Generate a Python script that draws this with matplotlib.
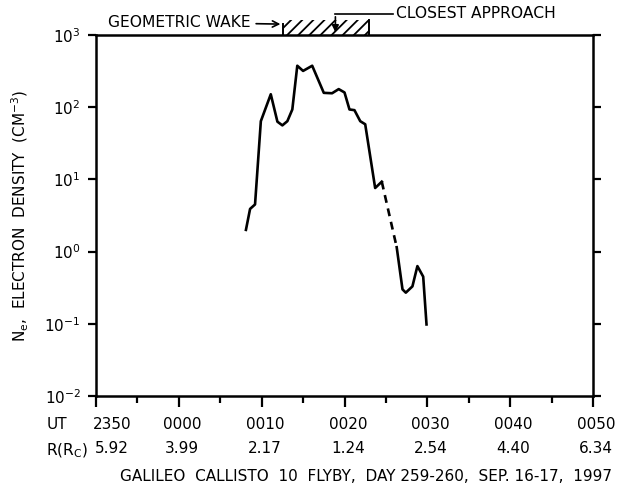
import matplotlib
matplotlib.use("Agg")
import matplotlib.pyplot as plt
from matplotlib.patches import Rectangle
from matplotlib.ticker import FixedLocator
import matplotlib.transforms as mtransforms

plt.rcParams['font.family'] = ['DejaVu Sans']
plt.rcParams['hatch.linewidth'] = 1.3

# minutes after 2350 UT (Day 259)
t_solid1 = [18.1, 18.6, 19.2, 19.9, 21.1, 21.9, 22.5, 23.1, 23.7, 24.3, 25.0,
            26.1, 27.5, 28.5, 29.3, 30.0, 30.6, 31.2, 31.9, 32.5, 33.7, 34.5]
ne_solid1 = [2.0, 3.9, 4.5, 64, 151, 63, 56, 64, 93, 375, 318,
             375, 158, 156, 178, 160, 93, 91, 64, 58, 7.6, 9.3]
t_dash = [34.5, 36.3]
ne_dash = [9.3, 1.15]
t_solid2 = [36.3, 37.0, 37.4, 38.2, 38.8, 39.5, 39.9]
ne_solid2 = [1.15, 0.30, 0.27, 0.33, 0.63, 0.45, 0.098]

ut_ticks = [0, 10, 20, 30, 40, 50, 60]
ut_labels = ["2350", "0000", "0010", "0020", "0030", "0040", "0050"]
r_labels = ["5.92", "3.99", "2.17", "1.24", "2.54", "4.40", "6.34"]

wake_start, wake_end = 22.6, 32.9
closest_approach = 28.9

fig = plt.figure(figsize=(6.27, 4.90), dpi=100)
ax = fig.add_axes([0.1531, 0.1918, 0.7927, 0.7368])

lw = 1.9
ax.plot(t_solid1, ne_solid1, color='black', lw=lw)
ax.plot(t_dash, ne_dash, color='black', lw=lw, ls=(0, (3, 2.2)))
ax.plot(t_solid2, ne_solid2, color='black', lw=lw)

ax.set_yscale('log')
ax.set_ylim(1e-2, 1e3)
ax.set_xlim(0, 60)

for s in ax.spines.values():
    s.set_linewidth(1.8)

fs = 11
ax.set_xticks(ut_ticks)
ax.set_xticklabels([])
ax.xaxis.set_minor_locator(FixedLocator([5, 15, 25, 35, 45, 55]))
ax.tick_params(axis='x', which='major', direction='out', length=8, width=1.6, pad=7)
ax.tick_params(axis='x', which='minor', direction='out', length=5, width=1.6)
ax.yaxis.set_minor_locator(FixedLocator([]))
ax.tick_params(axis='y', which='major', direction='out', length=6, width=1.6,
               labelsize=fs, right=True, left=True, pad=5)

trans = mtransforms.blended_transform_factory(ax.transData, ax.transAxes)
# UT and R rows (first column nudged right of its tick, as in the original)
for i, (x, ut, rl) in enumerate(zip(ut_ticks, ut_labels, r_labels)):
    dx = 1.9 if i == 0 else 0.4
    ax.text(x + dx, -0.058, ut, transform=trans, ha='center', va='top', fontsize=fs)
    ax.text(x + dx, -0.125, rl, transform=trans, ha='center', va='top', fontsize=fs)
ax.text(-0.1, -0.058, "UT", transform=ax.transAxes, ha='left', va='top', fontsize=fs)
ax.text(-0.1, -0.125, r"R(R$_\mathregular{C}$)", transform=ax.transAxes, ha='left',
        va='top', fontsize=fs)
fig.text(0.192, 0.012, "GALILEO  CALLISTO  10  FLYBY,  DAY 259-260,  SEP. 16-17,  1997",
         ha='left', va='bottom', fontsize=11)

ax.set_ylabel(r"N$_\mathregular{e}$,  ELECTRON  DENSITY  (CM$^{-3}$)", fontsize=fs,
              labelpad=10)

# geometric wake hatch above the plot
hh = 0.042
rect = Rectangle((wake_start, 1.0), wake_end - wake_start, hh, transform=trans,
                 fill=False, hatch='///', lw=0, clip_on=False)
ax.add_patch(rect)
ax.plot([wake_start, wake_start], [1.0, 1.03], transform=trans, color='black',
        lw=1.4, clip_on=False)
ax.plot([wake_end, wake_end], [1.0, hh + 1.0], transform=trans, color='black',
        lw=1.4, clip_on=False)

afs = 11.2
ax.annotate("GEOMETRIC WAKE", xy=(wake_start, 1.03), xycoords=trans,
            xytext=(0.024, 1.035), textcoords='axes fraction',
            ha='left', va='center', fontsize=afs,
            arrowprops=dict(arrowstyle='->', color='black', lw=1.2))
ax.annotate("", xy=(closest_approach, 1.0), xycoords=trans,
            xytext=(closest_approach, 1.058), textcoords=trans,
            arrowprops=dict(arrowstyle='-|>', color='black', lw=1.2, mutation_scale=10))
ax.plot([closest_approach, 35.8], [1.058, 1.058], transform=trans, color='black',
        lw=1.2, clip_on=False)
ax.text(36.2, 1.06, "CLOSEST APPROACH", transform=trans, ha='left', va='center',
        fontsize=afs)

fig.savefig("out.png", dpi=100)
